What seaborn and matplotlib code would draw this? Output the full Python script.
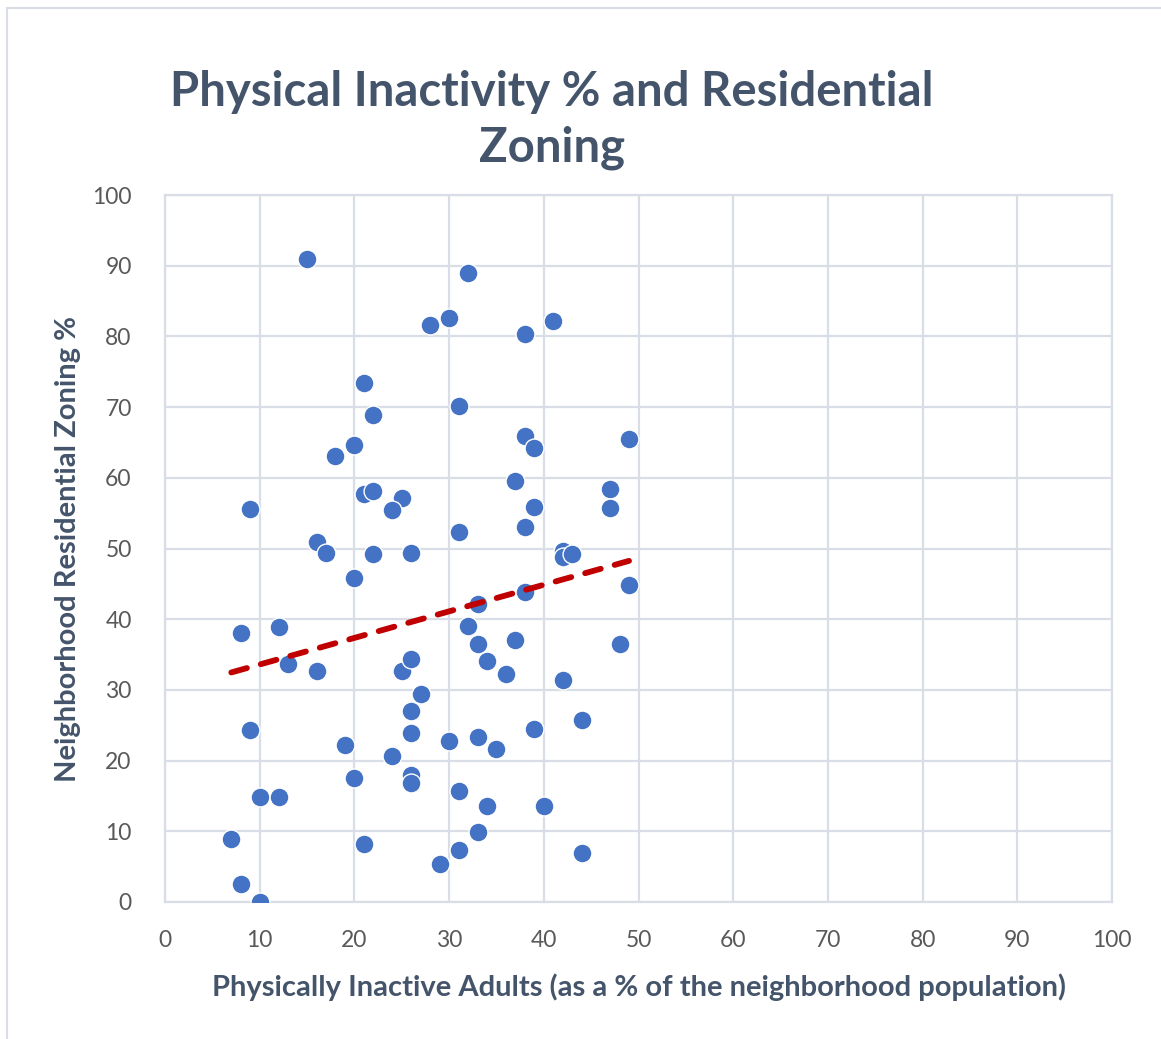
import numpy as np
import pandas as pd
import matplotlib
matplotlib.use("Agg")
import matplotlib.pyplot as plt
import seaborn as sns
from matplotlib.lines import Line2D

# Data
inactive_pct = [15, 32, 28, 30, 38, 41, 21, 22, 31, 38, 39, 49, 20, 18,
                9, 21, 22, 25, 24, 37, 39, 38, 47, 47, 31, 16, 17, 22,
                26, 42, 42, 43, 20, 49, 38, 33, 8, 12, 32, 33, 37, 48,
                13, 16, 25, 26, 34, 36, 42, 27, 26, 9, 44, 39, 26, 30,
                33, 35, 19, 24, 20, 26, 26, 10, 12, 31, 34, 40, 33, 7,
                21, 31, 44, 29, 8, 10]
residential_pct = [91.0, 89.0, 81.6, 82.6, 80.3, 82.2, 73.4, 68.9, 70.2, 65.9,
                   64.2, 65.5, 64.6, 63.1, 55.6, 57.7, 58.1, 57.1, 55.4, 59.5,
                   55.8, 53.0, 58.4, 55.7, 52.3, 50.9, 49.4, 49.2, 49.4, 49.6,
                   48.8, 49.2, 45.8, 44.9, 43.9, 42.1, 38.0, 38.9, 39.1, 36.5,
                   37.0, 36.5, 33.7, 32.7, 32.7, 34.4, 34.1, 32.2, 31.4, 29.4,
                   27.0, 24.3, 25.8, 24.5, 23.9, 22.8, 23.4, 21.7, 22.2, 20.7,
                   17.6, 18.0, 16.8, 14.9, 14.9, 15.7, 13.6, 13.6, 9.9, 8.9,
                   8.2, 7.4, 6.9, 5.4, 2.6, 0.0]
axis_ticks = [0, 10, 20, 30, 40, 50, 60, 70, 80, 90, 100]

title_text = "Physical Inactivity % and Residential\nZoning"
xlabel_text = "Physically Inactive Adults (as a % of the neighborhood population)"
ylabel_text = "Neighborhood Residential Zoning %"

df = pd.DataFrame({"x": inactive_pct, "y": residential_pct})

sns.set_theme(style="white")
plt.rcParams["font.family"] = ["Lato", "DejaVu Sans"]

W, H = 1161, 1039
fig = plt.figure(figsize=(W / 100, H / 100), dpi=100)
fig.patch.set_facecolor("white")
ax = fig.add_axes([165 / W, 1 - 902 / H, (1112 - 165) / W, (902 - 195) / H])

grid_c = "#D9DEE6"
ax.set_xlim(0, 100)
ax.set_ylim(0, 100)
ax.set_xticks(axis_ticks)
ax.set_yticks(axis_ticks)
ax.grid(True, color=grid_c, linewidth=1.6, zorder=0)
ax.set_axisbelow(True)
for s in ax.spines.values():
    s.set_color(grid_c)
    s.set_linewidth(1.6)

sns.scatterplot(data=df, x="x", y="y", ax=ax, s=185, color="#4472C4",
                edgecolor="white", linewidth=1.0, zorder=3, legend=False)
sns.regplot(data=df, x="x", y="y", ax=ax, scatter=False, ci=None, truncate=True,
            line_kws=dict(color="#C00000", lw=4.2, ls=(0, (2.78, 2.47)),
                          dash_capstyle="round", zorder=5))

tick_c = "#595959"
ax.tick_params(axis="both", length=0, labelsize=16.5, colors=tick_c)
ax.tick_params(axis="x", pad=20)
ax.tick_params(axis="y", pad=24)

label_c = "#44546A"
ax.set_xlabel(xlabel_text, fontsize=21, fontweight="bold", color=label_c, labelpad=16)
ax.set_ylabel(ylabel_text, fontsize=21, fontweight="bold", color=label_c, labelpad=8)

fig.text(552 / W, 1 - 120 / H, title_text, ha="center", va="center",
         fontsize=34, fontweight="bold", color=label_c, linespacing=1.3)

# outer chart frame (left and top edges visible in reference)
frame_c = "#D9DEE6"
fig.add_artist(Line2D([7 / W, 7 / W], [0, 1 - 8 / H], transform=fig.transFigure,
                      color=frame_c, lw=1.5))
fig.add_artist(Line2D([7 / W, 1], [1 - 8 / H, 1 - 8 / H], transform=fig.transFigure,
                      color=frame_c, lw=1.5))

fig.savefig("out.png", dpi=100, facecolor="white")
